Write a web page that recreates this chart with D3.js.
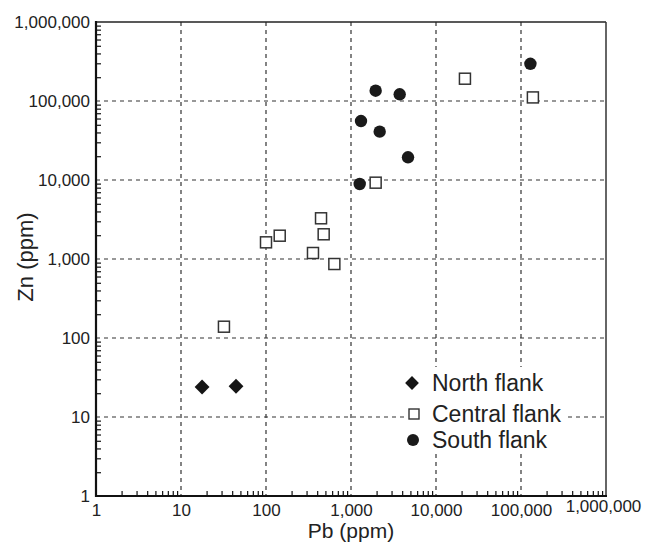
<!DOCTYPE html>
<html lang="en">
<head>
  <meta charset="UTF-8">
  <title>Zn vs Pb</title>
  <script src="https://d3js.org/d3.v7.min.js"></script>
  <style>
    body, html { margin: 0; padding: 0; background: #fff; overflow: hidden; }
    svg, svg text { font-family: "Liberation Sans", Arial, sans-serif; }
    svg { display: block; }
    .grid line { stroke: #333; stroke-width: 1.2; stroke-dasharray: 4,4; }
    .tick text { font-size: 17px; fill: #222; }
  </style>
</head>
<body>
  <svg id="chart" width="651" height="543"></svg>
  <script>
    // Data (ppm)
    const northPb = [17.7, 44.4];
    const northZn = [24, 24.5];

    const centralPb = [32, 100, 145, 444, 477, 357, 637, 1950, 21900, 138000];
    const centralZn = [139, 1626, 1972, 3275, 2055, 1191, 864, 9250, 191500, 111000];

    const southPb = [1950, 3740, 1311, 2175, 4686, 1266, 129000];
    const southZn = [135000, 121600, 55800, 40900, 19400, 8900, 296000];

    const majorTicks = [1, 10, 100, 1000, 10000, 100000, 1000000];
    const seriesNames = ['North flank', 'Central flank', 'South flank'];

    const svg = d3.select('#chart');
    const mLeft = 96, mRight = 606, mTop = 22, mBottom = 496;

    const x = d3.scaleLog().domain([1, 1e6]).range([mLeft, mRight]);
    const y = d3.scaleLog().domain([1, 1e6]).range([mBottom, mTop]);
    const fmt = d3.format(',');

    // minor ticks 2..9 in each decade
    const minor = [];
    majorTicks.slice(0, -1).forEach(d => {
      for (let k = 2; k < 10; k++) minor.push(d * k);
    });

    // grid lines
    const grid = svg.append('g').attr('class', 'grid');
    grid.selectAll('line.v')
      .data(majorTicks.slice(1, -1))
      .enter().append('line')
      .attr('x1', d => x(d)).attr('x2', d => x(d))
      .attr('y1', mTop).attr('y2', mBottom);
    grid.selectAll('line.h')
      .data(majorTicks.slice(1, -1))
      .enter().append('line')
      .attr('y1', d => y(d)).attr('y2', d => y(d))
      .attr('x1', mLeft).attr('x2', mRight);

    // minor ticks, pointing inside
    svg.append('g')
      .attr('transform', `translate(${mLeft},0)`)
      .call(d3.axisLeft(y).tickValues(minor).tickSize(-5).tickFormat(''))
      .call(g => g.select('.domain').remove())
      .call(g => g.selectAll('line').attr('stroke', '#111').attr('stroke-width', 1.2));
    svg.append('g')
      .attr('transform', `translate(0,${mBottom})`)
      .call(d3.axisBottom(x).tickValues(minor).tickSize(-5).tickFormat(''))
      .call(g => g.select('.domain').remove())
      .call(g => g.selectAll('line').attr('stroke', '#111').attr('stroke-width', 1.2));

    // labels
    svg.append('g')
      .attr('transform', `translate(${mLeft},0)`)
      .call(d3.axisLeft(y).tickValues(majorTicks).tickSize(0).tickPadding(6).tickFormat(fmt))
      .attr('font-family', null).attr('font-size', null)
      .call(g => g.select('.domain').remove());
    const xAx = svg.append('g')
      .attr('transform', `translate(0,${mBottom})`)
      .call(d3.axisBottom(x).tickValues(majorTicks).tickSize(0).tickPadding(8).tickFormat(fmt))
      .attr('font-family', null).attr('font-size', null)
      .call(g => g.select('.domain').remove());
    // last label sits a bit higher in the original
    xAx.selectAll('.tick').filter(d => d === 1e6).select('text')
      .attr('y', 4).attr('x', -3);

    // frame
    svg.append('line').attr('x1', mLeft).attr('x2', mRight).attr('y1', mTop).attr('y2', mTop)
      .attr('stroke', '#222').attr('stroke-width', 1.6);
    svg.append('line').attr('x1', mRight).attr('x2', mRight).attr('y1', mTop).attr('y2', mBottom)
      .attr('stroke', '#333').attr('stroke-width', 1.5);
    svg.append('line').attr('x1', mLeft).attr('x2', mLeft).attr('y1', mTop - 1).attr('y2', mBottom + 1)
      .attr('stroke', '#111').attr('stroke-width', 2.2);
    svg.append('line').attr('x1', mLeft - 1).attr('x2', mRight + 1).attr('y1', mBottom).attr('y2', mBottom)
      .attr('stroke', '#111').attr('stroke-width', 2.2);

    // axis titles
    svg.append('text')
      .attr('x', (mLeft + mRight) / 2).attr('y', 538)
      .attr('text-anchor', 'middle')
      .attr('font-size', 21).attr('fill', '#222')
      .text('Pb (ppm)');
    svg.append('text')
      .attr('transform', `translate(33,257) rotate(-90)`)
      .attr('text-anchor', 'middle')
      .attr('font-size', 22).attr('fill', '#222')
      .text('Zn (ppm)');

    // markers
    const diamond = d3.symbol().type(d3.symbolSquare).size(110);
    const marks = svg.append('g');

    marks.selectAll('path.north')
      .data(d3.zip(northPb, northZn))
      .enter().append('path')
      .attr('d', diamond)
      .attr('transform', d => `translate(${x(d[0])},${y(d[1])}) rotate(45)`)
      .attr('fill', '#151515');

    marks.selectAll('rect.central')
      .data(d3.zip(centralPb, centralZn))
      .enter().append('rect')
      .attr('x', d => x(d[0]) - 5.5).attr('y', d => y(d[1]) - 5.5)
      .attr('width', 11).attr('height', 11)
      .attr('fill', '#fff').attr('stroke', '#333').attr('stroke-width', 1.5);

    marks.selectAll('circle.south')
      .data(d3.zip(southPb, southZn))
      .enter().append('circle')
      .attr('cx', d => x(d[0])).attr('cy', d => y(d[1]))
      .attr('r', 6.2)
      .attr('fill', '#1a1a1a');

    // legend
    const leg = svg.append('g');
    leg.append('rect').attr('x', 406).attr('y', 367).attr('width', 162).attr('height', 87)
      .attr('fill', '#fff');
    const rows = [383, 414, 440];
    leg.append('path').attr('d', d3.symbol().type(d3.symbolSquare).size(95))
      .attr('transform', `translate(412,${rows[0]}) rotate(45)`).attr('fill', '#151515');
    leg.append('rect').attr('x', 409).attr('y', rows[1] - 5).attr('width', 10).attr('height', 10)
      .attr('fill', '#fff').attr('stroke', '#333').attr('stroke-width', 1.4);
    leg.append('circle').attr('cx', 413).attr('cy', rows[2]).attr('r', 6).attr('fill', '#1a1a1a');
    leg.selectAll('text')
      .data(seriesNames)
      .enter().append('text')
      .attr('x', 432).attr('y', (d, i) => rows[i] + 8)
      .attr('font-size', 23).attr('fill', '#222')
      .text(d => d);
  </script>
</body>
</html>
